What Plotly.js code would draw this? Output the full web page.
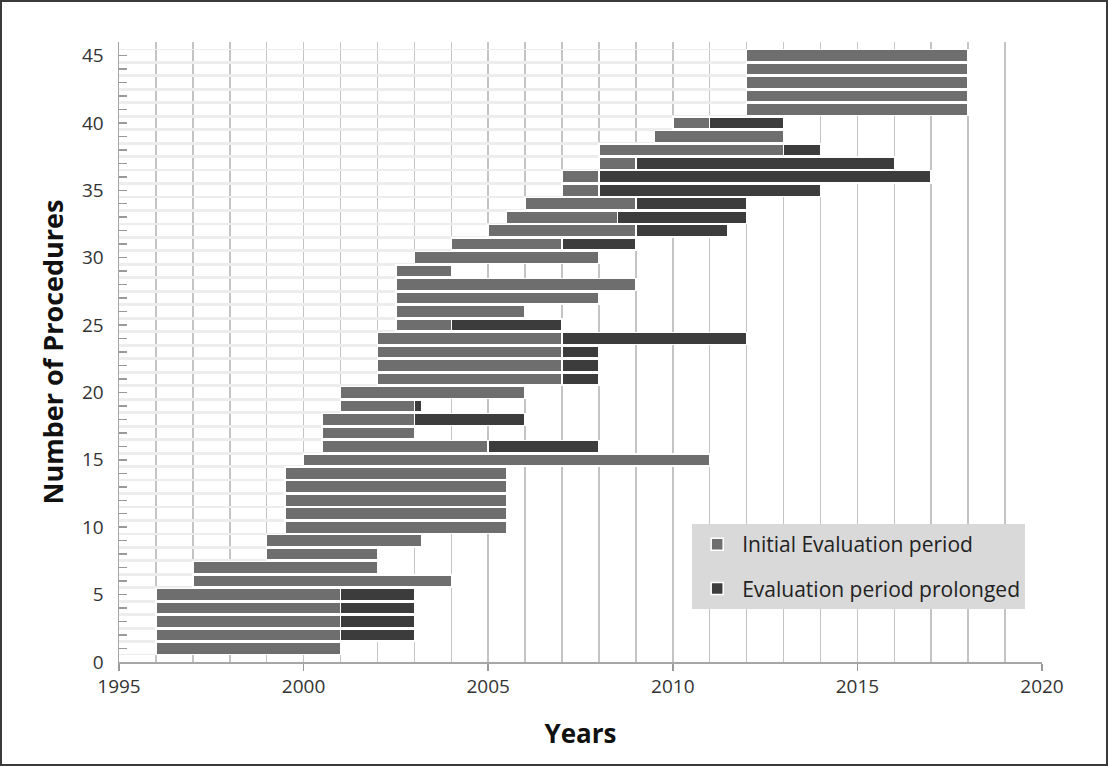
<!DOCTYPE html>
<html>
<head>
<meta charset="utf-8">
<script src="https://cdn.plot.ly/plotly-3.0.1.min.js"></script>
<style>
  html, body { margin: 0; padding: 0; background: #fff; }
  #chart { width: 1108px; height: 766px; box-sizing: border-box; border: 2px solid #3a3a3a; }
</style>
</head>
<body>
<div id="chart"></div>
<script>
// Procedure number (row) 1..45
const procedures = [1,2,3,4,5,6,7,8,9,10,11,12,13,14,15,16,17,18,19,20,21,22,23,24,25,26,27,28,29,30,31,32,33,34,35,36,37,38,39,40,41,42,43,44,45];
// Year the evaluation started
const startYear = [1996,1996,1996,1996,1996,1997,1997,1999,1999,1999.5,1999.5,1999.5,1999.5,1999.5,2000,2000.5,2000.5,2000.5,2001,2001,2002,2002,2002,2002,2002.5,2002.5,2002.5,2002.5,2002.5,2003,2004,2005,2005.5,2006,2007,2007,2008,2008,2009.5,2010,2012,2012,2012,2012,2012];
// Length of the initial evaluation period (years)
const initialYears = [5,5,5,5,5,7,5,3,4.2,6,6,6,6,6,11,4.5,2.5,2.5,2,5,5,5,5,5,1.5,3.5,5.5,6.5,1.5,5,3,4,3,3,1,1,1,5,3.5,1,6,6,6,6,6];
// Length of the prolongation (years), null = not prolonged
const prolongedYears = [null,2,2,2,2,null,null,null,null,null,null,null,null,null,null,3,null,3,0.2,null,1,1,1,5,3,null,null,null,null,null,2,2.5,3.5,3,6,9,7,1,null,2,null,null,null,null,null];

const seriesNames = ['Initial Evaluation period', 'Evaluation period prolonged'];
const xTicks = [1995, 2000, 2005, 2010, 2015, 2020];
const yTicks = [0, 5, 10, 15, 20, 25, 30, 35, 40, 45];

const baseTrace = {
  type: 'bar', orientation: 'h',
  y: procedures, x: startYear,
  marker: { color: 'rgba(0,0,0,0)', line: { color: '#ededed', width: 1.5 } },
  hoverinfo: 'skip', showlegend: false
};
const initTrace = {
  type: 'bar', orientation: 'h', name: seriesNames[0], legendgroup: 'a',
  y: procedures, x: initialYears,
  marker: { color: '#6e6e6e', line: { color: '#ffffff', width: 1.5 } }
};
const prolTrace = {
  type: 'bar', orientation: 'h', name: seriesNames[1], legendgroup: 'b',
  y: procedures, x: prolongedYears,
  marker: { color: '#3c3c3c', line: { color: '#ffffff', width: 1.5 } }
};

const font = 'Open Sans, Liberation Sans, sans-serif';
const layout = {
  width: 1104, height: 762,
  margin: { l: 117, r: 64, t: 40, b: 102 },
  paper_bgcolor: '#ffffff', plot_bgcolor: '#ffffff',
  barmode: 'stack', bargap: 0.1,
  font: { family: font, color: '#333' },
  xaxis: {
    range: [1995, 2020], tickvals: xTicks, ticktext: xTicks.map(String),
    ticks: 'outside', ticklen: 7, tickcolor: '#999', tickwidth: 1.5,
    showgrid: true, gridcolor: '#c4c4c4', gridwidth: 1.5,
    minor: { dtick: 1, showgrid: true, gridcolor: '#c4c4c4', gridwidth: 1.5 },
    showline: true, linecolor: '#a6a6a6', linewidth: 1.5,
    zeroline: false,
    tickfont: { size: 19, color: '#333', family: font },
    title: { text: 'Years', font: { size: 26, family: font, weight: 'bold', color: '#111' }, standoff: 26 }
  },
  yaxis: {
    range: [0, 46], tickvals: yTicks, ticktext: yTicks.map(String),
    ticks: 'inside', ticklen: 8, tickcolor: '#999', tickwidth: 1.5,
    minor: { dtick: 1, ticks: 'inside', ticklen: 8, tickcolor: '#999', tickwidth: 1.5, showgrid: false },
    showgrid: false, zeroline: false,
    showline: true, linecolor: '#a6a6a6', linewidth: 1.5,
    tickfont: { size: 19, color: '#333', family: font },
    ticklabelstandoff: 10,
    title: { text: 'Number of Procedures', font: { size: 27, family: font, weight: 'bold', color: '#111' }, standoff: 10 }
  },
  showlegend: true,
  legend: {
    x: 0.621, y: 0.2224, xanchor: 'left', yanchor: 'top',
    bgcolor: '#d9d9d9', borderwidth: 0,
    font: { size: 21, color: '#222', family: font },
    tracegroupgap: 14, traceorder: 'grouped',
    itemwidth: 40
  }
};

Plotly.newPlot('chart', [baseTrace, initTrace, prolTrace], layout, { displayModeBar: false, staticPlot: true });
</script>
</body>
</html>
